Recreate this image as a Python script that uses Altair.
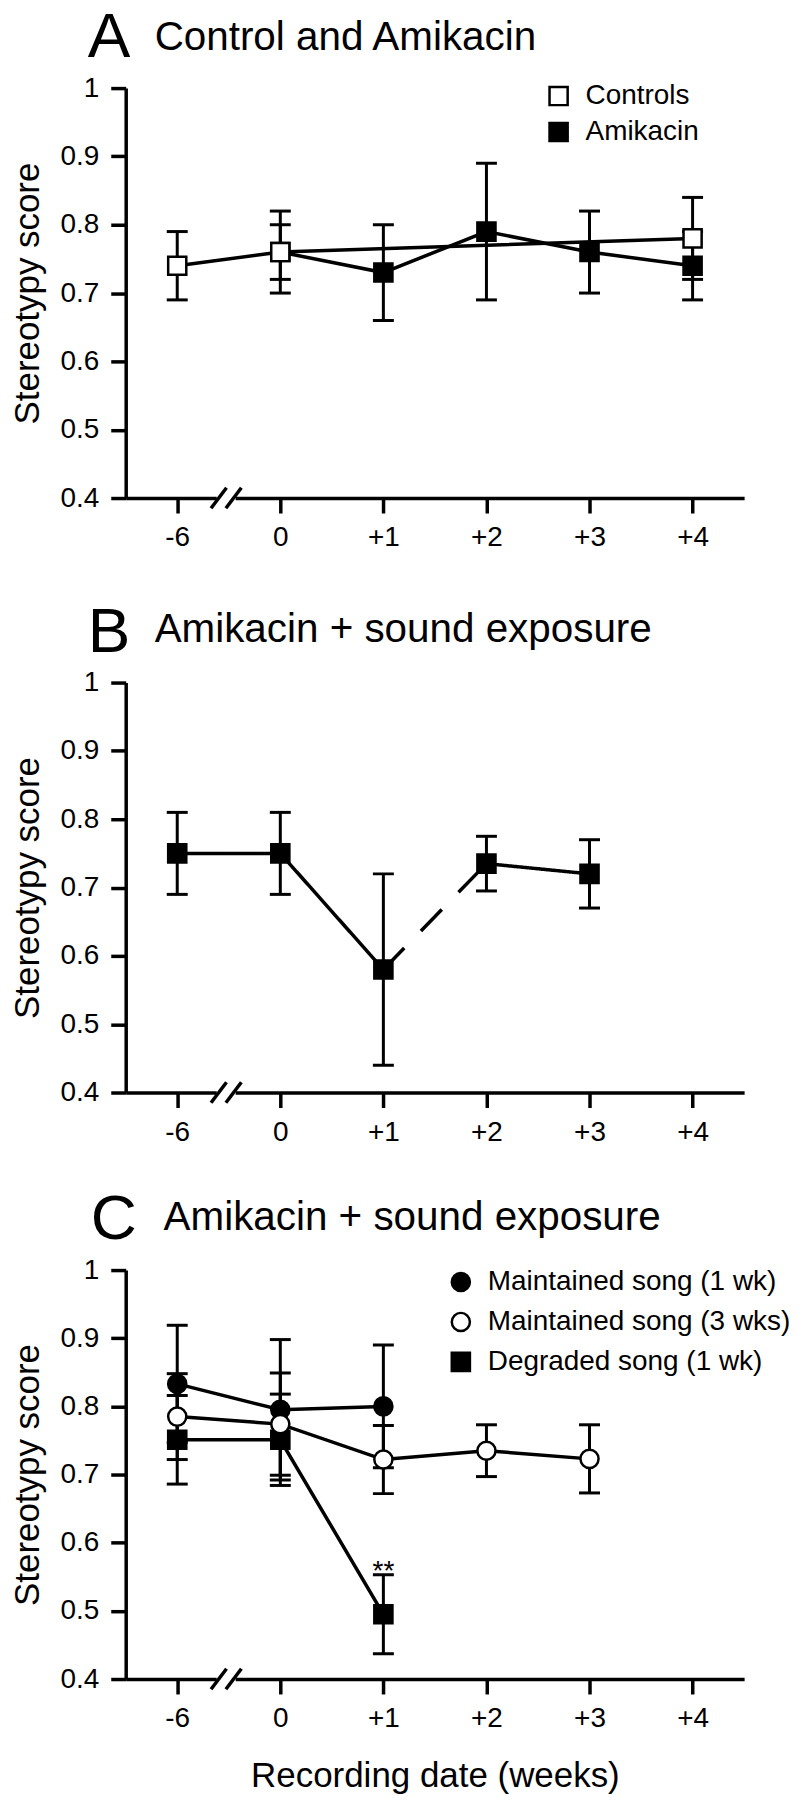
import altair as alt
import pandas as pd

FONT = "Liberation Sans"

# ---------------- data ----------------
weeks = ["-6", "0", "+1", "+2", "+3", "+4"]
y_ticks = [0.4, 0.5, 0.6, 0.7, 0.8, 0.9, 1.0]

# Panel A: Control and Amikacin
a_groups = ["Controls", "Amikacin"]
a_ctrl_weeks = ["-6", "0", "+4"]
a_ctrl_mean = [0.74, 0.76, 0.78]
a_ctrl_err = [0.05, 0.06, 0.06]
a_amik_weeks = ["0", "+1", "+2", "+3", "+4"]
a_amik_mean = [0.76, 0.73, 0.79, 0.76, 0.74]
a_amik_err = [0.04, 0.07, 0.10, 0.06, 0.05]

# Panel B: Amikacin + sound exposure
b_weeks = ["-6", "0", "+1", "+2", "+3"]
b_mean = [0.75, 0.75, 0.58, 0.735, 0.72]
b_err = [0.06, 0.06, 0.14, 0.04, 0.05]
b_dashed_from = "+1"   # segment +1 -> +2 is dashed

# Panel C: Amikacin + sound exposure
c_groups = ["Maintained song (1 wk)", "Maintained song (3 wks)", "Degraded song (1 wk)"]
c_m1_weeks = ["-6", "0", "+1"]
c_m1_mean = [0.833, 0.795, 0.80]
c_m1_err = [0.086, 0.103, 0.09]
c_m3_weeks = ["-6", "0", "+1", "+2", "+3"]
c_m3_mean = [0.785, 0.774, 0.722, 0.735, 0.723]
c_m3_err = [0.063, 0.075, 0.05, 0.038, 0.05]
c_deg_weeks = ["-6", "0", "+1"]
c_deg_mean = [0.751, 0.751, 0.495]
c_deg_err = [0.065, 0.067, 0.058]
c_sig_week = "+1"
c_sig_label = "**"

panel_letters = ["A", "B", "C"]
panel_titles = ["Control and Amikacin", "Amikacin + sound exposure", "Amikacin + sound exposure"]
y_title = "Stereotypy score"
x_title = "Recording date (weeks)"

# axis break between -6 and 0 (in week-index units)
break_center = 0.475


def frame(wk, mean, err, group):
    return pd.DataFrame({
        "x": [weeks.index(w) for w in wk],
        "y": mean,
        "lo": [m - e for m, e in zip(mean, err)],
        "hi": [m + e for m, e in zip(mean, err)],
        "group": group,
    })


W = 620
XS = alt.Scale(domain=[-0.5, 5.5], nice=False, zero=False)
YS = alt.Scale(domain=[0.4, 1.0], nice=False, zero=False)
label_expr_x = "[" + ",".join("'%s'" % w for w in weeks) + "][datum.value]"


def x_enc(xt, field="x"):
    return alt.X(field + ":Q", scale=XS, axis=alt.Axis(
        values=list(range(len(weeks))), labelExpr=label_expr_x, title=xt,
        labelPadding=11, titlePadding=26, labelFlush=False))


def y_enc(field="y"):
    return alt.Y(field + ":Q", scale=YS, axis=alt.Axis(
        values=y_ticks, labelExpr="datum.value == 1 ? '1' : format(datum.value, '.1f')",
        title=y_title, labelPadding=12, titlePadding=14))


def errbars(df, xt):
    rules = alt.Chart(df).mark_rule(color="black", strokeWidth=3).encode(
        x=x_enc(xt), y=y_enc("lo"), y2="hi:Q")
    caps = alt.Chart(df).transform_fold(["lo", "hi"], as_=["k", "v"]).mark_tick(
        orient="horizontal", size=21, thickness=3, color="black", opacity=1).encode(
        x=x_enc(xt), y=y_enc("v"))
    return [rules, caps]


def axis_break(xt):
    dx, dy, gap = 0.075, 0.015, 0.072
    brk = pd.DataFrame({
        "x": [break_center - gap - dx, break_center + gap - dx],
        "x2": [break_center - gap + dx, break_center + gap + dx],
        "y": [0.4 - dy, 0.4 - dy],
        "y2": [0.4 + dy, 0.4 + dy],
    })
    white = alt.Chart(pd.DataFrame({"x": [break_center - gap - 0.02], "x2": [break_center + gap + 0.02],
                                    "y": [0.4]})).mark_rule(
        color="white", strokeWidth=7, strokeCap="butt").encode(
        x=x_enc(xt), x2="x2:Q", y=y_enc("y"))
    slashes = alt.Chart(brk).mark_rule(color="black", strokeWidth=3.5).encode(
        x=x_enc(xt), x2="x2:Q", y=y_enc("y"), y2="y2:Q")
    return [white, slashes]


def heading(i, letter_dx, letter_dy, text_dx, text_dy):
    d = pd.DataFrame({"letter": [panel_letters[i]], "title": [panel_titles[i]]})
    let = alt.Chart(d).mark_text(font=FONT, fontSize=64, align="left", baseline="alphabetic", color="black").encode(
        text="letter:N", x=alt.value(letter_dx), y=alt.value(letter_dy))
    tit = alt.Chart(d).mark_text(font=FONT, fontSize=40.5, align="left", baseline="alphabetic",
                                 color="black").encode(
        text="title:N", x=alt.value(text_dx), y=alt.value(text_dy))
    return [let, tit]


def point_layer(df, xt, domain, shapes, fills, lx, ly, row_pad, lab_off):
    leg = alt.Legend(title=None, orient="none", legendX=lx, legendY=ly, labelFont=FONT,
                     labelFontSize=28, labelColor="black", labelLimit=0, symbolSize=330,
                     symbolStrokeWidth=2.5, rowPadding=row_pad, labelOffset=lab_off, padding=0)
    return alt.Chart(df).mark_point(filled=True, size=330, strokeWidth=2.5, opacity=1).encode(
        x=x_enc(xt), y=y_enc(),
        shape=alt.Shape("group:N", scale=alt.Scale(domain=domain, range=shapes), legend=leg),
        fill=alt.Fill("group:N", scale=alt.Scale(domain=domain, range=fills), legend=leg),
        stroke=alt.Stroke("group:N", scale=alt.Scale(domain=domain, range=["black"] * len(domain)), legend=leg),
    )


# ---------------- Panel A ----------------
a_ctrl = frame(a_ctrl_weeks, a_ctrl_mean, a_ctrl_err, a_groups[0])
a_amik = frame(a_amik_weeks, a_amik_mean, a_amik_err, a_groups[1])
a_all = pd.concat([a_amik, a_ctrl], ignore_index=True)

a_lines = alt.Chart(a_all).mark_line(color="black", strokeWidth=3.5).encode(
    x=x_enc(None), y=y_enc(), detail="group:N", order="x:Q")
a_pts = point_layer(a_all, None, a_groups, ["square", "square"], ["white", "black"], 420, -6, 6, 13)
panel_a = alt.layer(*heading(0, -38, -31, 29, -38), *axis_break(None), *errbars(a_all, None), a_lines,
                    a_pts).properties(width=W, height=411)

# ---------------- Panel B ----------------
b_df = frame(b_weeks, b_mean, b_err, "Amikacin")
seg_rows = []
for i in range(len(b_weeks) - 1):
    style = "dashed" if b_weeks[i] == b_dashed_from else "solid"
    for j in (i, i + 1):
        seg_rows.append({"x": weeks.index(b_weeks[j]), "y": b_mean[j], "seg": i, "style": style})
b_seg = pd.DataFrame(seg_rows)
b_lines = alt.Chart(b_seg).mark_line(color="black", strokeWidth=3.5).encode(
    x=x_enc(None), y=y_enc(), detail="seg:N", order="x:Q",
    strokeDash=alt.StrokeDash("style:N", scale=alt.Scale(domain=["solid", "dashed"], range=[[1, 0], [30, 24]]),
                              legend=None))
b_pts = alt.Chart(b_df).mark_point(filled=True, size=330, shape="square", fill="black", stroke="black",
                                   strokeWidth=2.5, opacity=1).encode(x=x_enc(None), y=y_enc())
panel_b = alt.layer(*heading(1, -38, -31, 29, -41), *axis_break(None), *errbars(b_df, None), b_lines,
                    b_pts).properties(width=W, height=411)

# ---------------- Panel C ----------------
c_m1 = frame(c_m1_weeks, c_m1_mean, c_m1_err, c_groups[0])
c_m3 = frame(c_m3_weeks, c_m3_mean, c_m3_err, c_groups[1])
c_deg = frame(c_deg_weeks, c_deg_mean, c_deg_err, c_groups[2])
c_all = pd.concat([c_m1, c_deg, c_m3], ignore_index=True)
c_lines = alt.Chart(c_all).mark_line(color="black", strokeWidth=3.5).encode(
    x=x_enc(x_title), y=y_enc(), detail="group:N", order="x:Q")
c_pts = point_layer(c_all, x_title, c_groups, ["circle", "circle", "square"], ["black", "white", "black"],
                    322, -2, 10, 13)
sig_row = c_deg[c_deg["x"] == weeks.index(c_sig_week)].assign(label=c_sig_label)
c_sig = alt.Chart(sig_row).mark_text(font=FONT, fontSize=28, align="center", baseline="alphabetic", dy=5,
                                     color="black").encode(x=x_enc(x_title), y=y_enc("hi"), text="label:N")
panel_c = alt.layer(*heading(2, -35, -31, 38, -40), *axis_break(x_title), *errbars(c_all, x_title), c_lines,
                    c_pts, c_sig).properties(width=W, height=410)

top = alt.vconcat(panel_a, panel_b, spacing=49).resolve_scale(fill="independent", shape="independent",
                                                              stroke="independent")
chart = alt.vconcat(top, panel_c, spacing=42).resolve_scale(
    fill="independent", shape="independent", stroke="independent").properties(
    padding={"left": 3, "top": -4, "right": 0, "bottom": 5}
).configure_view(stroke=None).configure_axis(
    domainColor="black", domainWidth=3.5, tickColor="black", tickWidth=3.5, tickSize=15,
    labelColor="black", labelFont=FONT, labelFontSize=28, titleFont=FONT, titleFontSize=35,
    titleColor="black", titleFontWeight="normal", grid=False
)

chart.save("out.html", embed_options={"renderer": "svg", "actions": False})
